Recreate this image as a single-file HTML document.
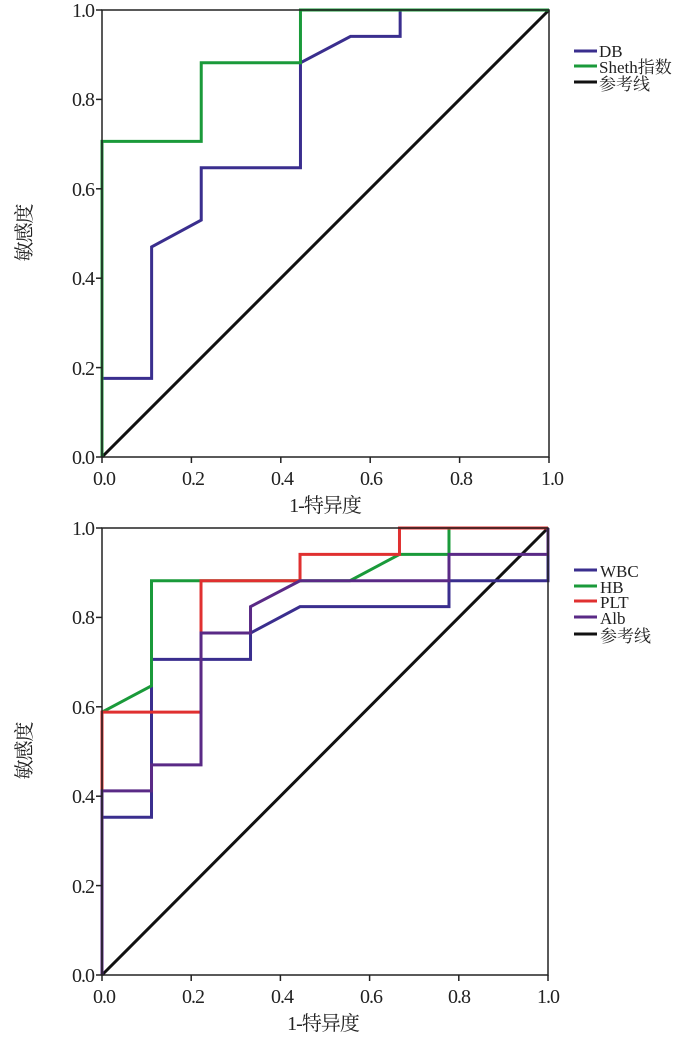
<!DOCTYPE html>
<html><head><meta charset="utf-8"><style>
body{margin:0;background:#fff}
svg{display:block}
text{font-family:"Liberation Serif","Noto Serif CJK SC",serif;fill:#222}
.l{fill:none;stroke-width:3;vector-effect:non-scaling-stroke;stroke-linejoin:miter}
.t{font-size:20px;letter-spacing:-1px}
</style></head><body>
<svg width="700" height="1038" viewBox="0 0 700 1038">
<g transform="translate(102,457) scale(447,-447)">
<polyline class="l" stroke="#111" points="0,0 1,1"/>
<polyline class="l" stroke="#3a2e8e" points="0,0 0,0.176 0.111,0.176 0.111,0.47 0.222,0.53 0.222,0.647 0.444,0.647 0.444,0.882 0.556,0.941 0.667,0.941 0.667,1 1,1"/>
<polyline class="l" stroke="#1a9a3a" points="0,0 0,0.706 0.222,0.706 0.222,0.882 0.444,0.882 0.444,1 1,1"/>
</g>
<rect x="102" y="10" width="447" height="447" fill="none" stroke="#222" stroke-width="1.5"/>
<g stroke="#222" stroke-width="1.5">
<line x1="96" y1="10" x2="102" y2="10"/><line x1="96" y1="99.4" x2="102" y2="99.4"/><line x1="96" y1="188.8" x2="102" y2="188.8"/><line x1="96" y1="278.2" x2="102" y2="278.2"/><line x1="96" y1="367.6" x2="102" y2="367.6"/><line x1="96" y1="457" x2="102" y2="457"/>
<line x1="102" y1="457" x2="102" y2="463"/><line x1="191.4" y1="457" x2="191.4" y2="463"/><line x1="280.8" y1="457" x2="280.8" y2="463"/><line x1="370.2" y1="457" x2="370.2" y2="463"/><line x1="459.6" y1="457" x2="459.6" y2="463"/><line x1="549" y1="457" x2="549" y2="463"/>
</g>
<g class="t" text-anchor="end">
<text x="94" y="17">1.0</text><text x="94" y="106">0.8</text><text x="94" y="196">0.6</text><text x="94" y="285">0.4</text><text x="94" y="375">0.2</text><text x="94" y="464">0.0</text>
</g>
<g class="t" text-anchor="middle">
<text x="104" y="485">0.0</text><text x="193" y="485">0.2</text><text x="282" y="485">0.4</text><text x="371" y="485">0.6</text><text x="461" y="485">0.8</text><text x="552" y="485">1.0</text>
<text x="325" y="512">1-特异度</text>
</g>
<text class="t" transform="translate(31,233) rotate(-90)" text-anchor="middle">敏感度</text>
<g stroke-width="3">
<line x1="574" y1="51" x2="597" y2="51" stroke="#3a2e8e"/>
<line x1="574" y1="66" x2="597" y2="66" stroke="#1a9a3a"/>
<line x1="574" y1="82" x2="597" y2="82" stroke="#111"/>
</g>
<g font-size="17"><text x="599" y="57">DB</text><text x="599" y="73">Sheth指数</text><text x="599" y="90">参考线</text></g>

<g transform="translate(102,975) scale(446,-447)">
<polyline class="l" stroke="#111" points="0,0 1,1"/>
<polyline class="l" stroke="#3a2e8e" points="0,0 0,0.353 0.111,0.353 0.111,0.706 0.333,0.706 0.333,0.765 0.444,0.824 0.778,0.824 0.778,0.882 1,0.882 1,1"/>
<polyline class="l" stroke="#1a9a3a" points="0,0 0,0.588 0.111,0.647 0.111,0.882 0.556,0.882 0.667,0.941 0.778,0.941 0.778,1 1,1"/>
<polyline class="l" stroke="#e03030" points="0,0 0,0.588 0.222,0.588 0.222,0.882 0.444,0.882 0.444,0.941 0.667,0.941 0.667,1 1,1"/>
<polyline class="l" stroke="#5a2a86" points="0,0 0,0.412 0.111,0.412 0.111,0.47 0.222,0.47 0.222,0.765 0.333,0.765 0.333,0.824 0.444,0.882 0.778,0.882 0.778,0.941 1,0.941 1,1"/>
</g>
<rect x="102" y="528" width="446" height="447" fill="none" stroke="#222" stroke-width="1.5"/>
<g stroke="#222" stroke-width="1.5">
<line x1="96" y1="528" x2="102" y2="528"/><line x1="96" y1="617.4" x2="102" y2="617.4"/><line x1="96" y1="706.8" x2="102" y2="706.8"/><line x1="96" y1="796.2" x2="102" y2="796.2"/><line x1="96" y1="885.6" x2="102" y2="885.6"/><line x1="96" y1="975" x2="102" y2="975"/>
<line x1="102" y1="975" x2="102" y2="981"/><line x1="191.2" y1="975" x2="191.2" y2="981"/><line x1="280.4" y1="975" x2="280.4" y2="981"/><line x1="369.6" y1="975" x2="369.6" y2="981"/><line x1="458.8" y1="975" x2="458.8" y2="981"/><line x1="548" y1="975" x2="548" y2="981"/>
</g>
<g class="t" text-anchor="end">
<text x="94" y="535">1.0</text><text x="94" y="624">0.8</text><text x="94" y="714">0.6</text><text x="94" y="803">0.4</text><text x="94" y="893">0.2</text><text x="94" y="982">0.0</text>
</g>
<g class="t" text-anchor="middle">
<text x="104" y="1003">0.0</text><text x="193" y="1003">0.2</text><text x="282" y="1003">0.4</text><text x="371" y="1003">0.6</text><text x="459" y="1003">0.8</text><text x="548" y="1003">1.0</text>
<text x="323" y="1030">1-特异度</text>
</g>
<text class="t" transform="translate(31,751) rotate(-90)" text-anchor="middle">敏感度</text>
<g stroke-width="3">
<line x1="574" y1="570" x2="597" y2="570" stroke="#3a2e8e"/>
<line x1="574" y1="586" x2="597" y2="586" stroke="#1a9a3a"/>
<line x1="574" y1="601" x2="597" y2="601" stroke="#e03030"/>
<line x1="574" y1="617" x2="597" y2="617" stroke="#5a2a86"/>
<line x1="574" y1="634" x2="597" y2="634" stroke="#111"/>
</g>
<g font-size="17"><text x="600" y="577">WBC</text><text x="600" y="593">HB</text><text x="600" y="608">PLT</text><text x="600" y="624">Alb</text><text x="600" y="642">参考线</text></g>
</svg>
</body></html>
